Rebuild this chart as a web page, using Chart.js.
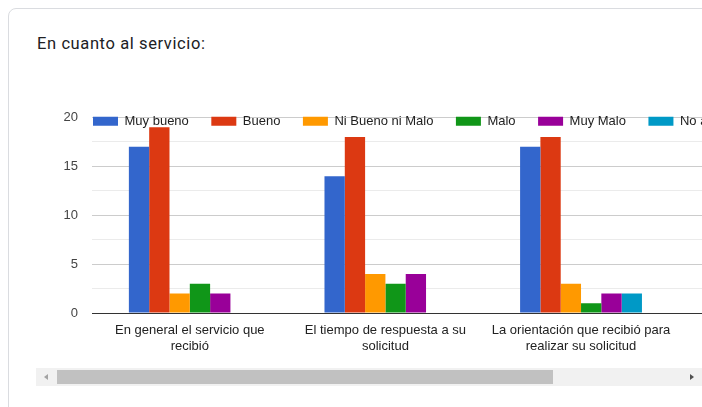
<!DOCTYPE html>
<html>
<head>
<meta charset="utf-8">
<script src="https://cdn.jsdelivr.net/npm/chart.js@4/dist/chart.umd.min.js"></script>
<style>
  html, body { margin: 0; padding: 0; background: #fff; overflow: hidden; width: 702px; height: 407px; }
  .card { position: absolute; left: 8px; top: 8px; width: 760px; height: 460px; border: 1px solid #dadce0; border-radius: 8px; box-sizing: border-box; }
  .title { position: absolute; left: 37px; top: 34px; font: 16.5px Roboto, "Noto Sans", sans-serif; letter-spacing: 0.6px; color: #202124; white-space: nowrap; }
  .scroller { position: absolute; left: 0; top: 0; width: 702px; height: 366px; overflow: hidden; }
  #wrap { position: absolute; left: 0; top: 72px; width: 900px; height: 292px; }
  .track { position: absolute; left: 36px; top: 368px; width: 666px; height: 18px; background: #f1f1f1; }
  .thumb { position: absolute; left: 57px; top: 370px; width: 496px; height: 14px; background: #c1c1c1; }
  .arrow-l { position: absolute; left: 44px; top: 374px; width: 0; height: 0; border-top: 3.5px solid transparent; border-bottom: 3.5px solid transparent; border-right: 4px solid #a3a3a3; }
  .arrow-r { position: absolute; left: 690px; top: 374px; width: 0; height: 0; border-top: 3.5px solid transparent; border-bottom: 3.5px solid transparent; border-left: 4px solid #505050; }
</style>
</head>
<body>
<div class="card"></div>
<div class="title">En cuanto al servicio:</div>
<div class="scroller">
  <div id="wrap"><canvas id="chart" width="900" height="292"></canvas></div>
</div>
<div class="track"></div>
<div class="thumb"></div>
<div class="arrow-l"></div>
<div class="arrow-r"></div>

<script>
// Rows of the grid question, already wrapped onto two lines each
const categoryLines = [
  ["En general el servicio que", "recibió"],
  ["El tiempo de respuesta a su", "solicitud"],
  ["La orientación que recibió para", "realizar su solicitud"]
];

// Answer options (legend) and their counts per row
const seriesNames = ["Muy bueno", "Bueno", "Ni Bueno ni Malo", "Malo", "Muy Malo", "No aplica"];
const muyBueno      = [17, 14, 17];
const bueno         = [19, 18, 18];
const niBuenoNiMalo = [2, 4, 3];
const malo          = [3, 3, 1];
const muyMalo       = [2, 4, 2];
const noAplica      = [0, 0, 2];

const seriesColors = ["#3366cc", "#dc3912", "#ff9900", "#109618", "#990099", "#0099c6"];
const yTicks = [0, 5, 10, 15, 20];

const seriesValues = [muyBueno, bueno, niBuenoNiMalo, malo, muyMalo, noAplica];

const datasets = seriesValues.map((vals, s) => ({
  label: seriesNames[s],
  data: vals.map((v, i) => ({ x: i, y: v })),
  backgroundColor: seriesColors[s],
  borderWidth: 0,
  categoryPercentage: 0.623,
  barPercentage: 1
}));

// Page positions of the value axis top (20), its baseline (0) and the legend row
const PLOT_TOP = 117.5;
const PLOT_BOTTOM = 313.3;
const LEGEND_MID = 121.2;
const CANVAS_W = 900;

// The legend row sits just below the top gridline, inside the plot
const legendInPlot = {
  id: 'legendInPlot',
  afterLayout(chart) {
    const lg = chart.legend;
    const pad = lg.options.labels.padding;
    const fs = lg.options.labels.font.size;
    const top = chart.chartArea.top + (LEGEND_MID - PLOT_TOP) - pad - fs / 2;
    const h = lg.bottom - lg.top;
    lg.top = top; lg.bottom = top + h;
    const w = lg.right - lg.left;
    lg.left = 93 - pad; lg.right = lg.left + w;
  }
};

const chart = new Chart(document.getElementById('chart'), {
  type: 'bar',
  data: { datasets },
  options: {
    responsive: false,
    maintainAspectRatio: false,
    animation: false,
    layout: { padding: { top: 0, right: 6, bottom: 0, left: 0 } },
    plugins: {
      tooltip: { enabled: false },
      legend: {
        position: 'top',
        align: 'start',
        labels: {
          boxWidth: 25,
          boxHeight: 9,
          padding: 22.5,
          color: '#222222',
          font: { family: '"Liberation Sans", Arial, sans-serif', size: 13 }
        }
      }
    },
    scales: {
      x: {
        type: 'linear',
        offset: false,
        min: -0.5,
        max: 3.6,
        grid: { display: false, drawTicks: false },
        border: { display: false },
        ticks: {
          stepSize: 1,
          includeBounds: false,
          autoSkip: false,
          maxRotation: 0,
          padding: 9,
          color: '#222222',
          font: { family: '"Liberation Sans", Arial, sans-serif', size: 13, lineHeight: 1.23 },
          callback: (v) => (Number.isInteger(v) && categoryLines[v]) ? categoryLines[v] : ''
        }
      },
      y: {
        min: yTicks[0],
        max: yTicks[yTicks.length - 1],
        afterFit(scale) { scale.width = 92; },
        border: { display: false },
        grid: {
          drawTicks: false,
          lineWidth: 1,
          color: (ctx) => {
            const v = ctx.tick.value;
            if (v === 0) return '#333333';
            return (v % 5 === 0) ? '#cccccc' : '#ebebeb';
          }
        },
        ticks: {
          stepSize: 2.5,
          padding: 14,
          color: '#444444',
          font: { family: '"Liberation Sans", Arial, sans-serif', size: 13 },
          callback: (v) => yTicks.includes(v) ? String(v) : ''
        }
      }
    }
  },
  plugins: [legendInPlot]
});

// size the canvas so the plot spans from the 20 line to the baseline
const plotH = chart.chartArea.bottom - chart.chartArea.top;
const wantH = PLOT_BOTTOM - PLOT_TOP;
if (Math.abs(plotH - wantH) > 0.5) {
  const newH = Math.round(chart.height + (wantH - plotH));
  document.getElementById('wrap').style.height = newH + 'px';
  chart.resize(CANVAS_W, newH);
}
// place the canvas so the value axis sits at its page position
document.getElementById('wrap').style.top = (PLOT_TOP - chart.chartArea.top) + 'px';
</script>
</body>
</html>
